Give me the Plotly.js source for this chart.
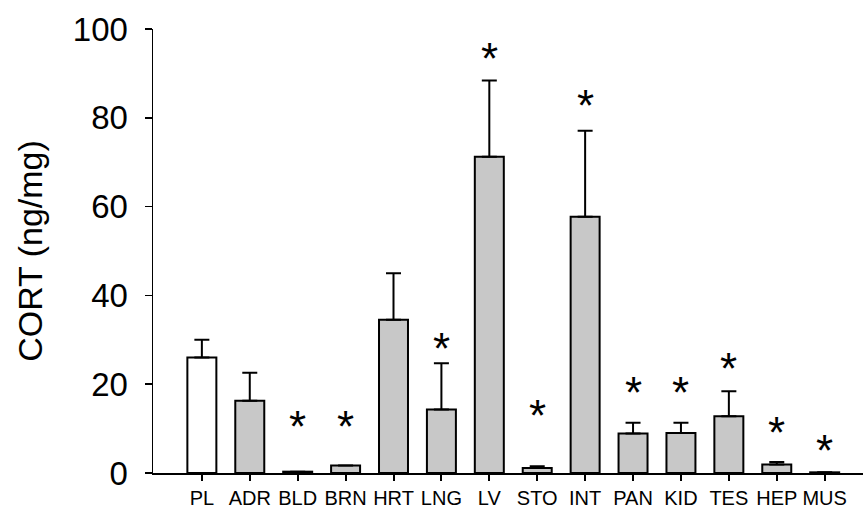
<!DOCTYPE html>
<html>
<head>
<meta charset="utf-8">
<script src="https://cdn.plot.ly/plotly-3.0.1.min.js"></script>
<style>
html,body{margin:0;padding:0;background:#fff;}
#chart{width:863px;height:508px;}
</style>
</head>
<body>
<div id="chart"></div>
<script>
// Data
const categories = ['PL','ADR','BLD','BRN','HRT','LNG','LV','STO','INT','PAN','KID','TES','HEP','MUS'];
const means      = [26.0, 16.3, 0.3, 1.7, 34.5, 14.3, 71.2, 1.1, 57.7, 8.9, 9.0, 12.8, 1.9, 0.15];
const errors     = [4.0, 6.3, 0, 0, 10.5, 10.4, 17.2, 0.4, 19.4, 2.4, 2.3, 5.6, 0.6, 0];
const barColors  = ['#ffffff','#c8c8c8','#c8c8c8','#c8c8c8','#c8c8c8','#c8c8c8','#c8c8c8','#c8c8c8','#c8c8c8','#c8c8c8','#c8c8c8','#c8c8c8','#c8c8c8','#c8c8c8'];
// Significance markers (asterisk) and their heights
const starCategories = ['BLD','BRN','LNG','LV','STO','INT','PAN','KID','TES','HEP','MUS'];
const starHeights    = [11.8, 11.8, 29.4, 94.7, 14.4, 84.2, 19.5, 19.5, 24.9, 10.5, 6.4];
const yTickValues = [0, 20, 40, 60, 80, 100];

const font = 'Liberation Sans, Arial, sans-serif';

const bars = {
  type: 'bar',
  x: categories,
  y: means,
  marker: {color: barColors, line: {color: '#000', width: 2}},
  error_y: {
    type: 'data', symmetric: false,
    array: errors,
    arrayminus: errors.map(() => 0),
    color: '#000', thickness: 2, width: 7.5, visible: true
  },
  hoverinfo: 'skip'
};

const annotations = starCategories.map((c, i) => ({
  x: c, y: starHeights[i], xref: 'x', yref: 'y',
  text: '*', showarrow: false,
  xanchor: 'center', yanchor: 'middle', yshift: -6,
  font: {family: font, size: 44, color: '#000'}
}));

const layout = {
  width: 863, height: 508,
  margin: {l: 153, r: 0, t: 29, b: 35},
  paper_bgcolor: '#fff', plot_bgcolor: '#fff',
  showlegend: false,
  bargap: 0.395,
  font: {family: font, color: '#000'},
  xaxis: {
    type: 'category',
    range: [-1.02, 13.8],
    showline: true, linecolor: '#000', linewidth: 2,
    ticks: 'outside', ticklen: 6, tickwidth: 2, tickcolor: '#000',
    showgrid: false, zeroline: false,
    tickfont: {family: font, size: 20, color: '#000'},
    ticklabelstandoff: 0
  },
  yaxis: {
    range: [0, 100],
    tickvals: yTickValues,
    ticktext: yTickValues.map(String),
    showline: true, linecolor: '#000', linewidth: 1.5,
    ticks: 'outside', ticklen: 7, tickwidth: 1.5, tickcolor: '#000',
    showgrid: false, zeroline: false,
    tickfont: {family: font, size: 33, color: '#000'},
    ticklabelstandoff: 10,
    title: {text: 'CORT (ng/mg)', font: {family: font, size: 34, color: '#000'}, standoff: 20}
  },
  annotations: annotations
};

Plotly.newPlot('chart', [bars], layout, {staticPlot: true, displayModeBar: false});
</script>
</body>
</html>
